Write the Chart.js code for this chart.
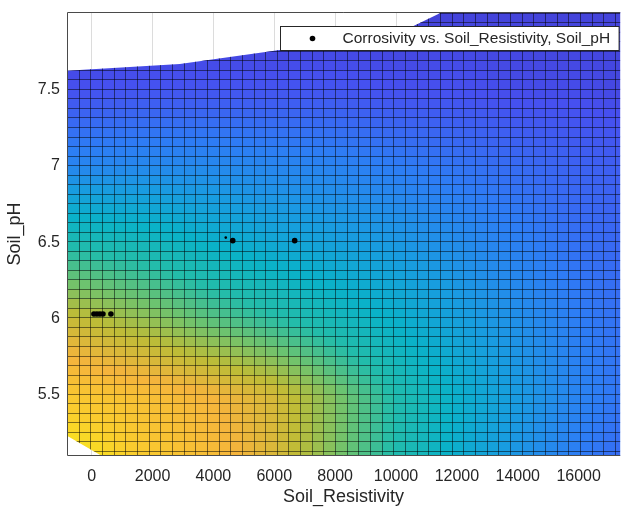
<!DOCTYPE html>
<html>
<head>
<meta charset="utf-8">
<script src="https://cdn.jsdelivr.net/npm/chart.js@4.4.1/dist/chart.umd.min.js"></script>
<style>
  html, body { margin: 0; padding: 0; background: #fff; overflow: hidden; }
</style>
</head>
<body>
<canvas id="surfaceChart" width="623" height="512"></canvas>
<script>
// measured samples
const resistivity = [75, 174, 272, 371, 633, 4636, 6671];
const soilPH = [6.03, 6.03, 6.03, 6.03, 6.03, 6.51, 6.51];
// sample that sits mostly under the surface
const hiddenResistivity = [4406];
const hiddenPH = [6.53];

// fitted surface, colour level (0 = bottom of colormap, 1 = top)
const gridResistivity = [-810, 2000, 4000, 6000, 8000, 10000, 12000, 14000, 16000, 17400];
const gridPH = [5.1, 5.5, 6.0, 6.5, 7.0, 7.5, 8.0];
const levelPH51 = [0.97, 0.88, 0.83, 0.75, 0.62, 0.49, 0.38, 0.28, 0.20, 0.16];
const levelPH55 = [0.88, 0.84, 0.80, 0.74, 0.62, 0.49, 0.39, 0.30, 0.22, 0.18];
const levelPH60 = [0.72, 0.64, 0.57, 0.51, 0.45, 0.39, 0.32, 0.26, 0.20, 0.17];
const levelPH65 = [0.48, 0.44, 0.39, 0.35, 0.32, 0.29, 0.25, 0.21, 0.17, 0.15];
const levelPH70 = [0.23, 0.24, 0.24, 0.23, 0.22, 0.20, 0.18, 0.16, 0.14, 0.13];
const levelPH75 = [0.10, 0.11, 0.11, 0.11, 0.11, 0.10, 0.10, 0.09, 0.09, 0.08];
const levelPH80 = [0.04, 0.04, 0.05, 0.05, 0.06, 0.06, 0.07, 0.07, 0.07, 0.07];
const surfaceLevels = [levelPH51, levelPH55, levelPH60, levelPH65, levelPH70, levelPH75, levelPH80];

// where the surface is cut off by the z limits
const topEdgeResistivity = [-810, 2897, 6178, 8475, 10574, 11526, 12083];
const topEdgePH = [7.622, 7.666, 7.757, 7.823, 7.914, 8.006, 8.058];
const cornerEdgeResistivity = [-810, 338, 600];
const cornerEdgePH = [5.234, 5.101, 5.062];

const xTicks = [0, 2000, 4000, 6000, 8000, 10000, 12000, 14000, 16000];
const yTicks = [5.5, 6, 6.5, 7, 7.5];

// parula-like colormap
const parula = [
  [62, 38, 168], [70, 80, 240], [45, 125, 245], [25, 155, 225], [10, 178, 200],
  [35, 188, 170], [110, 195, 110], [190, 188, 55], [245, 180, 60], [250, 205, 45], [248, 250, 20]
];

// mesh of the fitted surface (data units)
const meshStartX = -810;
const meshStepX = 383;
const meshStartY = 5.0732;
const meshStepY = 0.0623;

const axisColor = "#262626";
const fontFamily = "'Liberation Sans', Arial, Helvetica, sans-serif";

function parulaColor(level) {
  const t = Math.min(1, Math.max(0, level)) * (parula.length - 1);
  const i = Math.min(Math.floor(t), parula.length - 2);
  const f = t - i;
  const a = parula[i];
  const b = parula[i + 1];
  const c = a.map((v, k) => Math.round(v + (b[k] - v) * f));
  return `rgb(${c[0]}, ${c[1]}, ${c[2]})`;
}

function segment(arr, v) {
  if (v <= arr[0]) return [0, 0];
  for (let i = 0; i < arr.length - 1; i++) {
    if (v <= arr[i + 1]) return [i, (v - arr[i]) / (arr[i + 1] - arr[i])];
  }
  return [arr.length - 2, 1];
}

function levelAt(xv, yv) {
  const [i, fx] = segment(gridResistivity, xv);
  const [j, fy] = segment(gridPH, yv);
  const a = surfaceLevels[j][i], b = surfaceLevels[j][i + 1];
  const c = surfaceLevels[j + 1][i], d = surfaceLevels[j + 1][i + 1];
  return (a * (1 - fx) + b * fx) * (1 - fy) + (c * (1 - fx) + d * fx) * fy;
}

const surfacePlugin = {
  id: "surface",
  beforeDatasetsDraw(chart) {
    const { ctx, chartArea: area, scales: { x, y } } = chart;
    const px = v => x.getPixelForValue(v);
    const py = v => y.getPixelForValue(v);

    ctx.save();
    ctx.beginPath();
    ctx.rect(area.left, area.top, area.right - area.left, area.bottom - area.top);
    ctx.clip();

    // outline of the visible part of the surface
    ctx.beginPath();
    ctx.moveTo(px(cornerEdgeResistivity[0]), py(cornerEdgePH[0]));
    ctx.lineTo(px(topEdgeResistivity[0]), py(topEdgePH[0]));
    for (let i = 1; i < topEdgeResistivity.length; i++) {
      ctx.lineTo(px(topEdgeResistivity[i]), py(topEdgePH[i]));
    }
    ctx.lineTo(area.right + 30, area.top - 30);
    ctx.lineTo(area.right + 30, area.bottom + 30);
    const last = cornerEdgeResistivity.length - 1;
    ctx.lineTo(px(cornerEdgeResistivity[last]), area.bottom + 30);
    for (let i = last; i >= 0; i--) {
      ctx.lineTo(px(cornerEdgeResistivity[i]), py(cornerEdgePH[i]));
    }
    ctx.closePath();
    ctx.clip();

    // faces
    for (let xv = meshStartX; xv < x.max; xv += meshStepX) {
      for (let yv = meshStartY; yv < y.max; yv += meshStepY) {
        const x0 = px(xv), x1 = px(xv + meshStepX);
        const y0 = py(yv + meshStepY), y1 = py(yv);
        ctx.fillStyle = parulaColor(levelAt(xv + meshStepX / 2, yv + meshStepY / 2));
        ctx.fillRect(x0, y0, x1 - x0 + 0.6, y1 - y0 + 0.6);
      }
    }

    // edges
    ctx.strokeStyle = "rgba(0, 0, 0, 0.5)";
    ctx.lineWidth = 1;
    ctx.beginPath();
    for (let xv = meshStartX; xv < x.max + meshStepX; xv += meshStepX) {
      const p = Math.round(px(xv)) + 0.5;
      ctx.moveTo(p, area.top);
      ctx.lineTo(p, area.bottom);
    }
    for (let yv = meshStartY; yv < y.max + meshStepY; yv += meshStepY) {
      const p = Math.round(py(yv)) + 0.5;
      ctx.moveTo(area.left, p);
      ctx.lineTo(area.right, p);
    }
    ctx.stroke();
    ctx.restore();
  },
  afterDraw(chart) {
    const { ctx, chartArea: area } = chart;
    ctx.save();
    // axes box (left, bottom, top)
    ctx.strokeStyle = "#4a4a4a";
    ctx.lineWidth = 1;
    ctx.beginPath();
    ctx.moveTo(area.right, area.top + 0.5);
    ctx.lineTo(area.left + 0.5, area.top + 0.5);
    ctx.lineTo(area.left + 0.5, area.bottom - 0.5);
    ctx.lineTo(area.right, area.bottom - 0.5);
    ctx.stroke();

    // legend
    const label = chart.data.datasets[0].label;
    ctx.font = `15.5px ${fontFamily}`;
    const textWidth = ctx.measureText(label).width;
    const boxW = 62 + textWidth + 9;
    const boxH = 24;
    const boxX = Math.round(area.right - 2 - boxW) + 0.5;
    const boxY = area.top + 14.5;
    ctx.fillStyle = "#ffffff";
    ctx.fillRect(boxX, boxY, boxW, boxH);
    ctx.strokeStyle = "#262626";
    ctx.strokeRect(boxX, boxY, boxW, boxH);
    ctx.fillStyle = "#000000";
    ctx.beginPath();
    ctx.arc(boxX + 32, boxY + boxH / 2, 2.8, 0, Math.PI * 2);
    ctx.fill();
    ctx.fillStyle = axisColor;
    ctx.textBaseline = "middle";
    ctx.textAlign = "left";
    ctx.fillText(label, boxX + 62, boxY + boxH / 2 + 0.5);
    ctx.restore();
  }
};

new Chart(document.getElementById("surfaceChart"), {
  type: "scatter",
  data: {
    datasets: [{
      label: "Corrosivity vs. Soil_Resistivity, Soil_pH",
      data: resistivity.map((v, i) => ({ x: v, y: soilPH[i] })),
      backgroundColor: "#000000",
      borderWidth: 0,
      pointRadius: 2.8,
      pointHoverRadius: 2.8
    }, {
      label: "hidden",
      data: hiddenResistivity.map((v, i) => ({ x: v, y: hiddenPH[i] })),
      backgroundColor: "#000000",
      borderWidth: 0,
      pointRadius: 1.3,
      pointHoverRadius: 1.3
    }]
  },
  options: {
    responsive: false,
    animation: false,
    layout: { padding: { top: 12, right: 0, left: 0, bottom: 0 } },
    plugins: {
      legend: { display: false },
      tooltip: { enabled: false }
    },
    scales: {
      x: {
        type: "linear",
        min: -810,
        max: 17366,
        afterBuildTicks: scale => { scale.ticks = xTicks.map(v => ({ value: v })); },
        afterFit: scale => {
          scale.height = 56;
          scale.paddingLeft = 0;
          scale.paddingRight = 0;
        },
        grid: { color: "#dcdcdc", drawTicks: false },
        border: { display: false },
        ticks: {
          padding: 11,
          color: axisColor,
          font: { family: fontFamily, size: 16 },
          maxRotation: 0,
          callback: v => String(v)
        },
        title: {
          display: true,
          text: "Soil_Resistivity",
          color: axisColor,
          font: { family: fontFamily, size: 18 },
          padding: { top: 0, bottom: 4 }
        }
      },
      y: {
        type: "linear",
        min: 5.101,
        max: 8.006,
        afterBuildTicks: scale => { scale.ticks = yTicks.map(v => ({ value: v })); },
        afterFit: scale => {
          scale.width = 67;
          scale.paddingTop = 0;
          scale.paddingBottom = 0;
        },
        grid: { color: "#dcdcdc", drawTicks: false },
        border: { display: false },
        ticks: {
          padding: 7,
          color: axisColor,
          font: { family: fontFamily, size: 16 },
          callback: v => String(v)
        },
        title: {
          display: true,
          text: "Soil_pH",
          color: axisColor,
          font: { family: fontFamily, size: 18 },
          padding: { top: 4, bottom: 0 }
        }
      }
    }
  },
  plugins: [surfacePlugin]
});
</script>
</body>
</html>
